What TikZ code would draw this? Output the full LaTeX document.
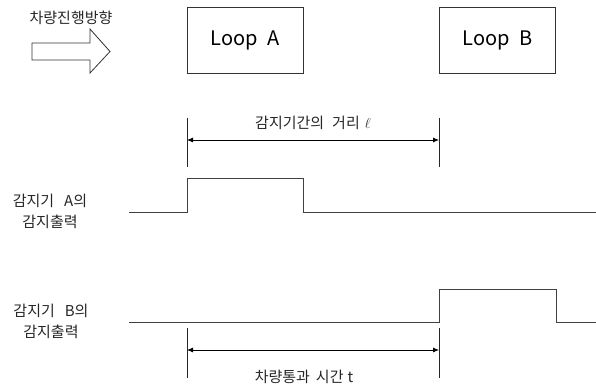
\documentclass[tikz,border=0pt]{standalone}
\usepackage{fontspec}
\setmainfont{Noto Sans CJK KR}
\usetikzlibrary{arrows.meta}
\begin{document}
\begin{tikzpicture}[x=1pt,y=-1pt,
  sig/.style={draw=black!75, line width=0.9pt},
  dimline/.style={draw=black!85, line width=0.8pt},
  dimarrow/.style={draw=black, line width=0.8pt, {Latex[length=6pt,width=5pt]}-{Latex[length=6pt,width=5pt]}},
  loopbox/.style={draw=black!80, line width=0.8pt, minimum width=116pt, minimum height=66pt, font=\fontsize{20}{22}\selectfont, inner sep=0pt},
  lbl/.style={font=\fontsize{15}{21}\selectfont, text=black!85, inner sep=0pt, align=center},
]
\useasboundingbox (0,0) rectangle (596,390);
% direction arrow
\node[lbl] (dir) at (71,18) {차량진행방향};
\draw[draw=black!80,line width=0.8pt] (32,43) -- (90,43) -- (90,29) -- (110,51.5) -- (90,73) -- (90,60) -- (32,60) -- cycle;
% loops
\node[loopbox] (la) at (245,40) {Loop\hspace{9pt}A};
\node[loopbox] (lb) at (497.5,40) {Loop\hspace{9pt}B};
% distance dimension
\coordinate (d1t) at (187,118); \coordinate (d1b) at (187,167);
\coordinate (d2t) at (439,118); \coordinate (d2b) at (439,167);
\coordinate (d1m) at (187,140); \coordinate (d2m) at (439,140);
\draw[dimline] (d1t) -- (d1b);
\draw[dimline] (d2t) -- (d2b);
\draw[dimarrow] (d1m) -- (d2m);
\node[lbl] (dl) at (313,123) {감지기간의\hspace{8pt}거리\hspace{5pt}$\ell$};
% signal A
\coordinate (a0) at (129,212); \coordinate (a1) at (187,212);
\coordinate (a2) at (187,178.5); \coordinate (a3) at (303,178.5);
\coordinate (a4) at (303,212); \coordinate (a5) at (596,212);
\draw[sig] (a0) -- (a1) -- (a2) -- (a3) -- (a4) -- (a5);
\node[lbl] (sa) at (50,211) {감지기\hspace{10pt}A의\\감지출력};
% signal B
\coordinate (b0) at (129,322); \coordinate (b1) at (439,322);
\coordinate (b2) at (439,289); \coordinate (b3) at (556,289);
\coordinate (b4) at (556,322); \coordinate (b5) at (596,322);
\draw[sig] (b0) -- (b1) -- (b2) -- (b3) -- (b4) -- (b5);
\node[lbl] (sb) at (51,321) {감지기\hspace{10pt}B의\\감지출력};
% time dimension
\coordinate (t1t) at (187,328); \coordinate (t1b) at (187,378);
\coordinate (t2t) at (439,328); \coordinate (t2b) at (439,378);
\coordinate (t1m) at (187,350); \coordinate (t2m) at (439,350);
\draw[dimline] (t1t) -- (t1b);
\draw[dimline] (t2t) -- (t2b);
\draw[dimarrow] (t1m) -- (t2m);
\node[lbl] (tl) at (304,377) {차량통과\hspace{6pt}시간\hspace{4pt}t};
\end{tikzpicture}
\end{document}
